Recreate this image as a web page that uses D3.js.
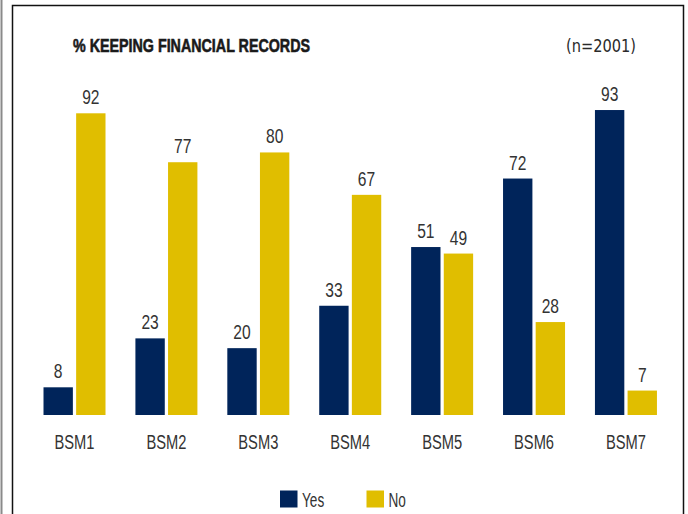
<!DOCTYPE html>
<html>
<head>
<meta charset="utf-8">
<script src="https://cdn.jsdelivr.net/npm/d3@7/dist/d3.min.js"></script>
<style>
  html, body { margin: 0; padding: 0; background: #fff; }
  svg { display: block; }
  .sans { font-family: "Liberation Sans", Arial, sans-serif; }
</style>
</head>
<body>
<svg id="chart" width="688" height="514"></svg>
<script>
// Survey results: share of businesses keeping financial records, per BSM round
const categories = ["BSM1", "BSM2", "BSM3", "BSM4", "BSM5", "BSM6", "BSM7"];
const yesValues = [8, 23, 20, 33, 51, 72, 93];
const noValues = [92, 77, 80, 67, 49, 28, 7];
const seriesNames = ["Yes", "No"];
const seriesColors = ["#00245a", "#e0be00"];
const chartTitle = "% KEEPING FINANCIAL RECORDS";
const sampleNote = "(n=2001)";

const rows = categories.map((c, i) => ({ category: c, values: [yesValues[i], noValues[i]] }));

const svg = d3.select("#chart");
const W = 688, H = 514;

// outer frame
svg.append("line").attr("x1", 1.5).attr("x2", 1.5).attr("y1", 0).attr("y2", H)
  .attr("stroke", "#8a8a8a").attr("stroke-width", 2);
svg.append("path")
  .attr("d", `M12.5,${H} L12.5,5.5 L683.5,5.5 L683.5,${H}`)
  .attr("fill", "none").attr("stroke", "#111").attr("stroke-width", 1.5);

// scales
const baseline = 415;
const x = d3.scaleBand().domain(categories).range([28.55, 671.9]).padding(0);
const step = x.bandwidth();
const xSub = d3.scaleBand().domain(seriesNames)
  .range([step / 2 - 31, step / 2 + 31]).paddingInner(0.1).paddingOuter(0);
const y = d3.scaleLinear().domain([0, 100]).range([baseline - 1.6, baseline - 1.6 - 326.2]);

// title and note
svg.append("text").attr("class", "sans")
  .attr("x", 73).attr("y", 51.5)
  .attr("font-size", 19).attr("font-weight", "bold").attr("fill", "#1a1a1a")
  .attr("stroke", "#1a1a1a").attr("stroke-width", 0.6)
  .attr("textLength", 237).attr("lengthAdjust", "spacingAndGlyphs")
  .text(chartTitle);
svg.append("text")
  .attr("x", 566).attr("y", 52)
  .attr("font-family", "'DejaVu Sans Condensed', 'DejaVu Sans', sans-serif")
  .attr("font-size", 17).attr("fill", "#2a2a2a")
  .attr("textLength", 70).attr("lengthAdjust", "spacingAndGlyphs")
  .text(sampleNote);

// bars
const groups = svg.append("g").selectAll("g").data(rows).join("g")
  .attr("transform", d => `translate(${x(d.category)},0)`);

groups.selectAll("rect")
  .data(d => d.values.map((v, i) => ({ key: seriesNames[i], value: v, color: seriesColors[i] })))
  .join("rect")
  .attr("x", d => xSub(d.key))
  .attr("width", xSub.bandwidth())
  .attr("y", d => y(d.value))
  .attr("height", d => baseline - y(d.value))
  .attr("fill", d => d.color);

// value labels, horizontally condensed
groups.selectAll("text.val")
  .data(d => d.values.map((v, i) => ({ key: seriesNames[i], value: v })))
  .join("text")
  .attr("class", "val sans")
  .attr("transform", d => `translate(${xSub(d.key) + xSub.bandwidth() / 2},${y(d.value) - 9}) scale(0.8,1)`)
  .attr("text-anchor", "middle")
  .attr("font-size", 19.5).attr("fill", "#333")
  .text(d => d.value);

// category axis labels
const axis = d3.axisBottom(x).tickSize(0).tickPadding(0);
const axisG = svg.append("g").attr("transform", `translate(0,${baseline})`).call(axis);
axisG.select(".domain").remove();
axisG.selectAll("text")
  .attr("class", "sans")
  .attr("font-family", null)
  .attr("dy", null)
  .attr("y", null)
  .attr("transform", "translate(0,34) scale(0.7,1)")
  .attr("font-size", 21).attr("fill", "#333");

// legend
const legendItems = [
  { name: seriesNames[0], color: seriesColors[0], x: 280 },
  { name: seriesNames[1], color: seriesColors[1], x: 366.5 }
];
const lg = svg.append("g").selectAll("g").data(legendItems).join("g")
  .attr("transform", d => `translate(${d.x},490.5)`);
lg.append("rect").attr("width", 17.5).attr("height", 17).attr("fill", d => d.color);
lg.append("text").attr("class", "sans")
  .attr("transform", "translate(22,16) scale(0.68,1)")
  .attr("font-size", 20).attr("fill", "#333")
  .text(d => d.name);
</script>
</body>
</html>
